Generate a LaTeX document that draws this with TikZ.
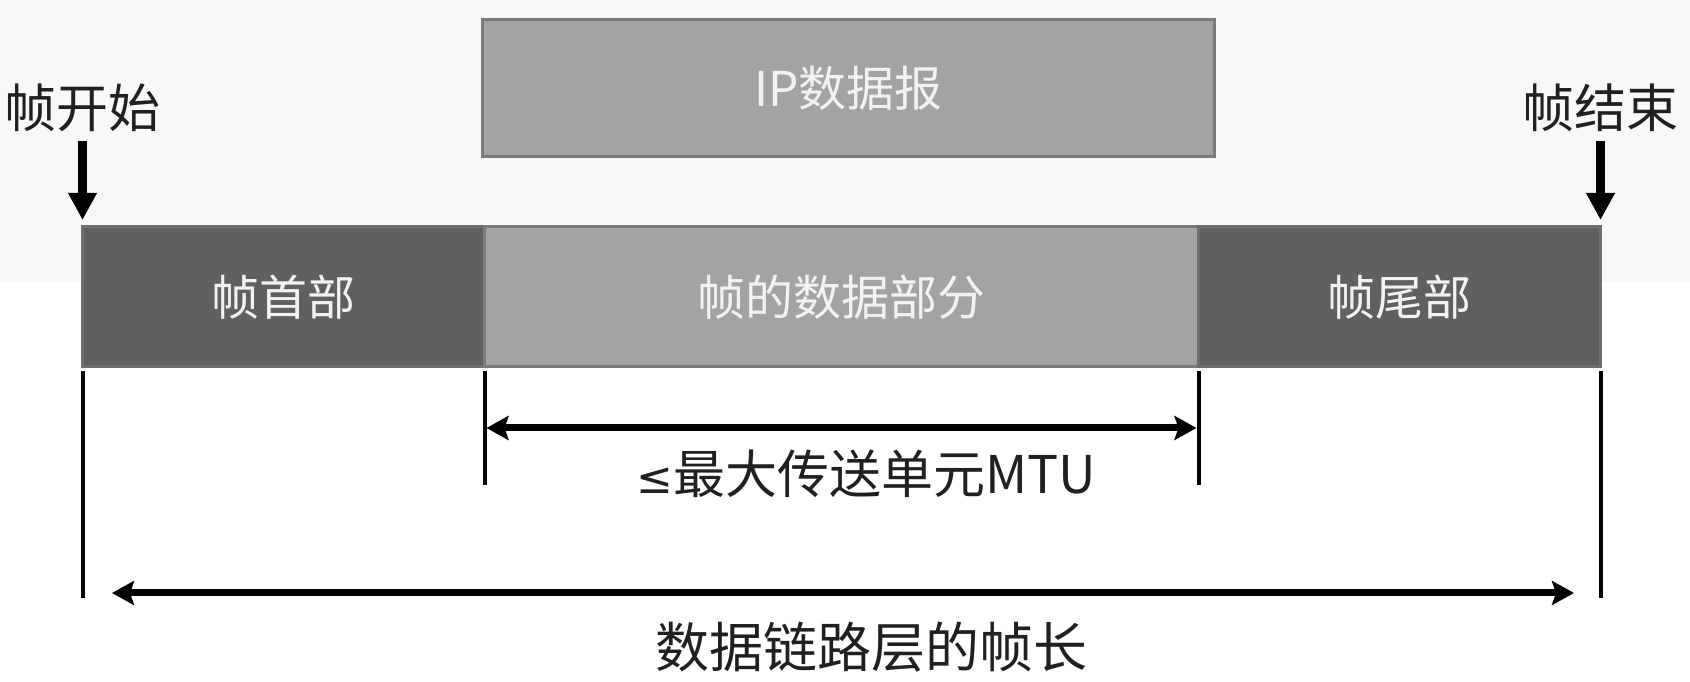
\documentclass[tikz,border=0pt]{standalone}
\usepackage{fontspec}
\setmainfont{Noto Sans CJK SC}
\newfontfamily\symfont{DejaVu Sans}
\usepackage{xcolor}
\usetikzlibrary{arrows.meta,positioning}

\definecolor{darkfill}{HTML}{606060}
\definecolor{darkline}{HTML}{6E6E6E}
\definecolor{lightfill}{HTML}{A3A3A3}
\definecolor{lightline}{HTML}{7A7A7A}
\definecolor{boxtext}{HTML}{F2F2F2}
\definecolor{captext}{HTML}{202020}
\definecolor{bgtop}{HTML}{F8F8F8}

\begin{document}
\begin{tikzpicture}[
    x=1pt, y=1pt,
    darkbox/.style={draw=darkline, fill=darkfill, line width=3pt, minimum height=140pt,
      minimum width=402pt, inner sep=0pt, outer sep=0pt, text=boxtext,
      font=\fontsize{48}{56}\selectfont},
    lightbox/.style={draw=lightline, fill=lightfill, line width=3pt, minimum height=140pt,
      inner sep=0pt, outer sep=0pt, text=boxtext, font=\fontsize{48}{56}\selectfont},
    captiontext/.style={text=captext, inner sep=0pt, font=\fontsize{52}{60}\selectfont},
    arrow/.style={-{Triangle[length=27pt,width=27pt]}, line width=9pt},
    dimarrow/.style={{Stealth[length=22pt,width=24pt,inset=4pt]}-{Stealth[length=22pt,width=24pt,inset=4pt]},
      line width=7pt},
    tickline/.style={line width=4pt}
  ]
    \useasboundingbox (0,0) rectangle (1690,682);
    \fill[bgtop] (0,400) rectangle (1690,682);

    \node[darkbox] (head) at (283.5,385) {帧首部};
    \node[lightbox, minimum width=714pt, right=0pt of head] (data) {帧的数据部分};
    \node[darkbox, right=0pt of data] (tail) {帧尾部};
    \node[lightbox, minimum width=732pt, minimum height=137pt,
      above right=70pt and -2pt of data.north west] (ip) {IP数据报};

    \node[captiontext] (start) at (82.5,574) {帧开始};
    \node[captiontext] (stop) at (1600.5,574) {帧结束};
    \node[captiontext] (mtu) at (866,208.5) {{\symfont\fontsize{44}{52}\selectfont ≤}最大传送单元MTU};
    \node[captiontext, font=\fontsize{54}{62}\selectfont] (len) at (871,35) {数据链路层的帧长};

    \coordinate (lbot) at (82.5,84);
    \coordinate (rbot) at (1600.5,84);
    \coordinate (mlbot) at (484.5,197);
    \coordinate (mrbot) at (1198.5,197);
    \coordinate (mtul) at (486.5,254);
    \coordinate (mtur) at (1196.5,254);
    \coordinate (lenl) at (112,89);
    \coordinate (lenr) at (1574,89);

    \draw[arrow, shorten <=9pt, shorten >=7pt] (start.south) -- (head.north west);
    \draw[arrow, shorten <=9pt, shorten >=7pt] (stop.south) -- (tail.north east);
    \draw[tickline, shorten <=4pt] (head.south west) -- (lbot);
    \draw[tickline, shorten <=4pt] (tail.south east) -- (rbot);
    \draw[tickline, shorten <=4pt] (data.south west) -- (mlbot);
    \draw[tickline, shorten <=4pt] (data.south east) -- (mrbot);
    \draw[dimarrow] (mtul) -- (mtur);
    \draw[dimarrow] (lenl) -- (lenr);
  \end{tikzpicture}
\end{document}
